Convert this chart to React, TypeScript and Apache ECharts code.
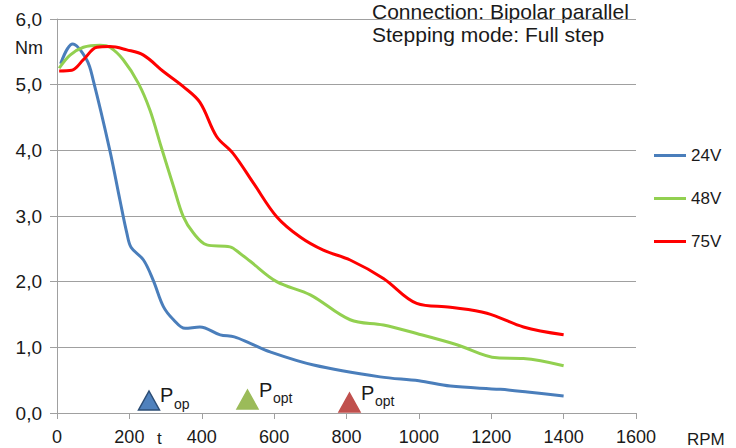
import React, { useEffect, useRef } from "react";
import * as echarts from "echarts";

const seriesNames = ["24V", "48V", "75V"];
const seriesColors = ["#4A7EBB", "#92D050", "#FF0000"];

const curve24V: [number, number][] = [
  [10, 5.32], [43, 5.62], [82, 5.38], [100, 5.07], [146, 4.0], [174, 3.24],
  [193, 2.74], [205, 2.52], [239, 2.33], [266, 2.02], [294, 1.62], [322, 1.42], [354, 1.29],
  [395, 1.31], [451, 1.19], [490, 1.16], [534, 1.06], [589, 0.93], [709, 0.73], [893, 0.55],
  [1000, 0.49], [1087, 0.41], [1225, 0.36], [1300, 0.32], [1400, 0.26],
];
const curve48V: [number, number][] = [
  [6, 5.25], [36, 5.45], [73, 5.57], [119, 5.6], [146, 5.57], [183, 5.38], [225, 5.02],
  [257, 4.61], [288, 4.05], [322, 3.45], [349, 2.99], [377, 2.74], [414, 2.56],
  [478, 2.53], [506, 2.43], [534, 2.31], [607, 2.0], [700, 1.8], [810, 1.42], [902, 1.34],
  [994, 1.21], [1105, 1.04], [1216, 0.84], [1289, 0.83], [1400, 0.72],
];
const curve75V: [number, number][] = [
  [6, 5.21], [41, 5.22], [73, 5.38], [110, 5.57], [146, 5.58], [193, 5.53], [239, 5.45],
  [294, 5.2], [349, 4.97], [395, 4.73], [441, 4.21], [487, 3.95], [543, 3.5], [607, 2.99],
  [672, 2.68], [736, 2.48], [810, 2.33], [902, 2.05], [994, 1.67], [1087, 1.61], [1188, 1.52],
  [1289, 1.31], [1400, 1.19],
];
const curves = [curve24V, curve48V, curve75V];

const titleLines = ["Connection: Bipolar parallel", "Stepping mode: Full step"];
const markerSubs = ["op", "opt", "opt"];
const markerFills = ["#4F81BD", "#9BBB59", "#C0504D"];
const markerStrokes = ["#2C4D75", "#9BBB59", "#C0504D"];

const FONT = "'Liberation Sans', Arial, sans-serif";

export default function App() {
  const ref = useRef<HTMLDivElement>(null);
  useEffect(() => {
    if (!ref.current) return;
    const chart = echarts.init(ref.current, null, { renderer: "svg" });

    const tri = (cx: number, top: number, w: number, h: number) => [
      [cx, top], [cx + w / 2, top + h], [cx - w / 2, top + h],
    ];
    const markerPos = [
      { cx: 149, top: 391, p: 160, pyBase: 405, s: 174, syBase: 411 },
      { cx: 247.5, top: 390, p: 259, pyBase: 400, s: 273, syBase: 405 },
      { cx: 349.5, top: 393, p: 361, pyBase: 403, s: 375, syBase: 408 },
    ];
    const markerGraphics: any[] = [];
    markerPos.forEach((m, i) => {
      markerGraphics.push({
        type: "polygon",
        shape: { points: tri(m.cx, m.top, 21, 19) },
        style: { fill: markerFills[i], stroke: markerStrokes[i], lineWidth: 1.5 },
      });
      markerGraphics.push({
        type: "text",
        x: m.p,
        y: m.pyBase,
        style: { text: "P", font: `20px ${FONT}`, fill: "#1a1a1a", textVerticalAlign: "bottom" },
      });
      markerGraphics.push({
        type: "text",
        x: m.s,
        y: m.syBase,
        style: { text: markerSubs[i], font: `14px ${FONT}`, fill: "#1a1a1a", textVerticalAlign: "bottom" },
      });
    });

    chart.setOption({
      animation: false,
      backgroundColor: "#ffffff",
      grid: { left: 57, right: 100, top: 19, bottom: 35, containLabel: false },
      xAxis: {
        type: "value",
        min: 0,
        max: 1600,
        interval: 200,
        axisLine: { show: true, lineStyle: { color: "#a0a0a0", width: 1 } },
        axisTick: { show: true, length: 6, lineStyle: { color: "#a0a0a0" } },
        splitLine: { show: false },
        axisLabel: {
          fontSize: 18,
          fontFamily: FONT,
          color: "#1a1a1a",
          margin: 15,
          formatter: (v: number) => String(v),
        },
      },
      yAxis: {
        type: "value",
        min: 0,
        max: 6,
        interval: 1,
        axisLine: { show: true, lineStyle: { color: "#a0a0a0", width: 1 } },
        axisTick: { show: true, length: 7, lineStyle: { color: "#a0a0a0" } },
        splitLine: { show: true, lineStyle: { color: "#a0a0a0", width: 1 } },
        axisLabel: {
          fontSize: 19,
          fontFamily: FONT,
          color: "#1a1a1a",
          margin: 15,
          formatter: (v: number) => v.toFixed(1).replace(".", ","),
        },
      },
      legend: {
        orient: "vertical",
        left: 654,
        top: 147,
        padding: 0,
        itemWidth: 32,
        itemHeight: 3,
        itemGap: 26,
        icon: "rect",
        textStyle: { fontSize: 17, fontFamily: FONT, color: "#1a1a1a" },
        data: seriesNames,
      },
      series: curves.map((c, i) => ({
        name: seriesNames[i],
        type: "line",
        data: c,
        smooth: 0.35,
        showSymbol: false,
        symbol: "none",
        color: seriesColors[i],
        lineStyle: { width: 3, color: seriesColors[i] },
      })),
      graphic: [
        {
          type: "text",
          x: 372,
          y: 0,
          style: {
            text: titleLines.join("\n"),
            font: `21px ${FONT}`,
            lineHeight: 23,
            fill: "#1a1a1a",
            textVerticalAlign: "top",
          },
        },
        {
          type: "text",
          x: 15,
          y: 48,
          style: { text: "Nm", font: `18px ${FONT}`, fill: "#1a1a1a", textVerticalAlign: "middle" },
        },
        {
          type: "text",
          x: 687,
          y: 439,
          style: { text: "RPM", font: `17px ${FONT}`, fill: "#1a1a1a", textVerticalAlign: "middle" },
        },
        {
          type: "text",
          x: 157,
          y: 438,
          style: { text: "t", font: `17px ${FONT}`, fill: "#1a1a1a", textVerticalAlign: "middle" },
        },
        ...markerGraphics,
      ],
    });
    return () => chart.dispose();
  }, []);
  return <div ref={ref} style={{ width: 736, height: 448, position: "absolute", left: 0, top: 0 }} />;
}
